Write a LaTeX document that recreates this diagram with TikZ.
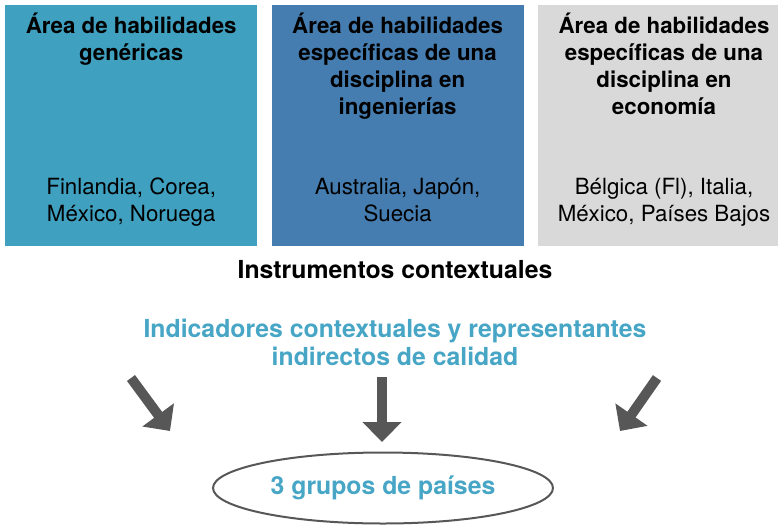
\documentclass[tikz,border=0pt]{standalone}
\usepackage{fontspec}
\setmainfont{TeX Gyre Heros}
\usetikzlibrary{positioning,arrows.meta,shapes.geometric}
\definecolor{genblue}{HTML}{3FA0C0}
\definecolor{engblue}{HTML}{457DB0}
\definecolor{ecogrey}{HTML}{D9D9D9}
\definecolor{textblue}{HTML}{47A5C5}
\definecolor{arrowgrey}{HTML}{575757}

\begin{document}
\begin{tikzpicture}[x=1pt, y=-1pt, node distance=14pt,
        area/.style={rectangle, minimum width=252pt, minimum height=241pt, inner sep=0pt},
        areatitle/.style={align=center, inner sep=0pt, font=\fontsize{22.3}{27}\selectfont\bfseries},
        countries/.style={align=center, inner sep=0pt, font=\fontsize{22.3}{27}\selectfont},
        bigarrow/.style={draw=arrowgrey, line width=10pt, -{Triangle[width=38pt,length=20pt]}}]
        \useasboundingbox (0,0) rectangle (778,527);

        % the three assessment areas
        \node [area, fill=genblue, anchor=north west] (generic) at (5,5) {};
        \node [area, fill=engblue, right=of generic] (engineering) {};
        \node [area, fill=ecogrey, right=of engineering] (economics) {};

        \node [areatitle, anchor=north] (genericTitle) at ([yshift=-8pt]generic.north) {Área de habilidades\\genéricas};
        \node [areatitle, anchor=north] (engineeringTitle) at ([yshift=-8pt]engineering.north) {Área de habilidades\\específicas de una\\disciplina en\\ingenierías};
        \node [areatitle, anchor=north] (economicsTitle) at ([yshift=-8pt]economics.north) {Área de habilidades\\específicas de una\\disciplina en\\economía};

        \node [countries, anchor=base] (genericCountries) at ([yshift=25pt]generic.south) {Finlandia, Corea,\\México, Noruega};
        \node [countries, anchor=base] (engineeringCountries) at ([yshift=25pt]engineering.south) {Australia, Japón,\\Suecia};
        \node [countries, anchor=base] (economicsCountries) at ([yshift=25pt]economics.south) {Bélgica (Fl), Italia,\\México, Países Bajos};

        % context
        \node [anchor=base, font=\fontsize{24.8}{28}\selectfont\bfseries] (instruments) at (395,278) {Instrumentos contextuales};
        \node [anchor=base, align=center, text=textblue, font=\fontsize{24.8}{28}\selectfont\bfseries] (indicators) at (395,365) {Indicadores contextuales y representantes\\indirectos de calidad};

        \node [ellipse, draw=arrowgrey, line width=2pt, minimum width=340pt, minimum height=71pt, inner sep=0pt,
               text=textblue, font=\fontsize{24.8}{28}\selectfont\bfseries] (groups) at (383,488) {3 grupos de países};

        \coordinate (leftStart) at (131,378);
        \coordinate (leftTip) at (170,431);
        \coordinate (rightStart) at (657,378);
        \coordinate (rightTip) at (620,431);
        \coordinate (midStart) at (382,377);

        \draw [bigarrow] (leftStart) -- (leftTip);
        \draw [bigarrow, shorten >=9.5pt] (midStart) -- (midStart |- groups.north);
        \draw [bigarrow] (rightStart) -- (rightTip);
    \end{tikzpicture}
\end{document}
